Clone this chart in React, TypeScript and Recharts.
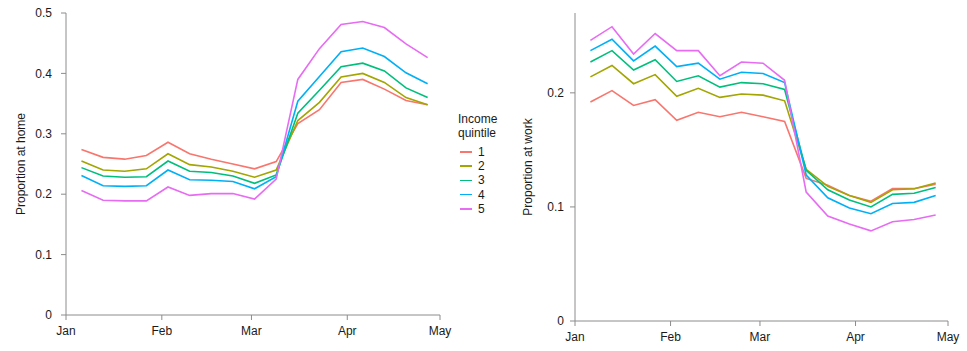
import React from 'react';
import { LineChart, Line, XAxis, YAxis } from 'recharts';

// weekly observations, Monday of each week (2020)
const weeks = [
  '2020-01-06', '2020-01-13', '2020-01-20', '2020-01-27', '2020-02-03', '2020-02-10',
  '2020-02-17', '2020-02-24', '2020-03-02', '2020-03-09', '2020-03-16', '2020-03-23',
  '2020-03-30', '2020-04-06', '2020-04-13', '2020-04-20', '2020-04-27',
];

const monthTicks = ['2020-01-01', '2020-02-01', '2020-03-01', '2020-04-01', '2020-05-01'];
const monthLabels = ['Jan', 'Feb', 'Mar', 'Apr', 'May'];

const quintiles = ['1', '2', '3', '4', '5'];
const colors = ['#F8766D', '#A3A500', '#00BF7D', '#00B0F6', '#E76BF3'];

const home1 = [0.274, 0.261, 0.258, 0.264, 0.286, 0.267, 0.258, 0.250, 0.242, 0.254, 0.317, 0.340, 0.385, 0.390, 0.374, 0.355, 0.348];
const home2 = [0.255, 0.240, 0.238, 0.242, 0.267, 0.249, 0.245, 0.238, 0.228, 0.240, 0.322, 0.352, 0.394, 0.400, 0.385, 0.360, 0.348];
const home3 = [0.244, 0.230, 0.228, 0.229, 0.255, 0.238, 0.236, 0.230, 0.218, 0.232, 0.334, 0.372, 0.411, 0.417, 0.404, 0.376, 0.360];
const home4 = [0.231, 0.214, 0.213, 0.214, 0.240, 0.224, 0.223, 0.221, 0.209, 0.229, 0.354, 0.395, 0.436, 0.442, 0.428, 0.401, 0.383];
const home5 = [0.206, 0.190, 0.189, 0.189, 0.212, 0.198, 0.201, 0.201, 0.192, 0.225, 0.390, 0.441, 0.481, 0.486, 0.476, 0.449, 0.426];

const work1 = [0.192, 0.202, 0.189, 0.194, 0.176, 0.183, 0.179, 0.183, 0.179, 0.175, 0.125, 0.119, 0.110, 0.105, 0.116, 0.116, 0.120];
const work2 = [0.214, 0.224, 0.208, 0.216, 0.197, 0.204, 0.196, 0.199, 0.198, 0.193, 0.133, 0.118, 0.110, 0.104, 0.115, 0.116, 0.121];
const work3 = [0.227, 0.237, 0.220, 0.229, 0.210, 0.215, 0.205, 0.209, 0.208, 0.203, 0.132, 0.115, 0.106, 0.100, 0.111, 0.112, 0.117];
const work4 = [0.237, 0.247, 0.228, 0.241, 0.223, 0.226, 0.212, 0.218, 0.217, 0.209, 0.128, 0.108, 0.099, 0.094, 0.103, 0.104, 0.110];
const work5 = [0.246, 0.258, 0.234, 0.252, 0.237, 0.237, 0.215, 0.227, 0.226, 0.211, 0.113, 0.092, 0.085, 0.079, 0.087, 0.089, 0.093];

const FONT = '"Liberation Sans", Arial, Helvetica, sans-serif';
const AXIS = '#8c8c8c';
const TEXT = '#1a1a1a';

const dayOf = (d: string) => (Date.parse(d) - Date.parse('2020-01-01')) / 86400000;
const tickDays = monthTicks.map(dayOf);
const monthName = (v: number) => monthLabels[tickDays.indexOf(v)] ?? '';

const buildRows = (series: number[][]) =>
  weeks.map((w, i) => {
    const row: Record<string, number> = { day: dayOf(w) };
    series.forEach((s, k) => { row['q' + quintiles[k]] = s[i]; });
    return row;
  });

const homeData = buildRows([home1, home2, home3, home4, home5]);
const workData = buildRows([work1, work2, work3, work4, work5]);

type PanelProps = {
  data: Record<string, number>[];
  width: number;
  axisWidth: number;
  margin: { top: number; right: number; bottom: number; left: number };
  yMax: number;
  yTicks: number[];
  yTickMargin: number;
  label: string;
  labelOffset: number;
};

const Panel = ({ data, width, axisWidth, margin, yMax, yTicks, yTickMargin, label, labelOffset }: PanelProps) => (
  <LineChart width={width} height={351} data={data} margin={margin} style={{ fontFamily: FONT }}>
    <XAxis
      type="number"
      dataKey="day"
      domain={[tickDays[0], tickDays[tickDays.length - 1]]}
      ticks={tickDays}
      tickFormatter={monthName}
      height={30}
      tickSize={5}
      tickMargin={6}
      stroke={AXIS}
      tick={{ fill: TEXT, fontSize: 12 }}
    />
    <YAxis
      type="number"
      domain={[0, yMax]}
      ticks={yTicks}
      width={axisWidth}
      tickSize={5}
      tickMargin={yTickMargin}
      stroke={AXIS}
      tick={{ fill: TEXT, fontSize: 12 }}
      tickFormatter={(v: number) => String(v)}
      label={{
        value: label,
        angle: -90,
        position: 'insideLeft',
        offset: labelOffset,
        style: { textAnchor: 'middle', fill: TEXT, fontSize: 12 },
      }}
    />
    {quintiles.map((q, k) => (
      <Line
        key={q}
        type="linear"
        dataKey={'q' + q}
        name={q}
        stroke={colors[k]}
        strokeWidth={1.6}
        dot={false}
        isAnimationActive={false}
      />
    ))}
  </LineChart>
);

const QuintileLegend = () => (
  <div style={{ position: 'absolute', left: 458, top: 112, fontFamily: FONT, fontSize: 12, color: TEXT, lineHeight: '14px' }}>
    <div>Income</div>
    <div>quintile</div>
    <div style={{ marginTop: 5 }}>
      {quintiles.map((q, k) => (
        <div key={q} style={{ display: 'flex', alignItems: 'center', height: 14.2 }}>
          <span style={{ display: 'inline-block', width: 12, height: 1.6, background: colors[k], marginLeft: 2, marginRight: 6 }} />
          <span>{q}</span>
        </div>
      ))}
    </div>
  </div>
);

export default function App() {
  return (
    <div style={{ position: 'absolute', left: 0, top: 0, width: 967, height: 351, background: '#fff' }}>
      <div style={{ position: 'absolute', left: 0, top: 0 }}>
        <Panel
          data={homeData}
          width={460}
          axisWidth={66}
          margin={{ top: 13, right: 20, bottom: 6, left: 0 }}
          yMax={0.5}
          yTicks={[0, 0.1, 0.2, 0.3, 0.4, 0.5]}
          yTickMargin={9}
          label="Proportion at home"
          labelOffset={21}
        />
      </div>
      <QuintileLegend />
      <div style={{ position: 'absolute', left: 520, top: 0 }}>
        <Panel
          data={workData}
          width={447}
          axisWidth={55}
          margin={{ top: 13, right: 19, bottom: 0, left: 0 }}
          yMax={0.27}
          yTicks={[0, 0.1, 0.2]}
          yTickMargin={6}
          label="Proportion at work"
          labelOffset={8}
        />
      </div>
    </div>
  );
}
